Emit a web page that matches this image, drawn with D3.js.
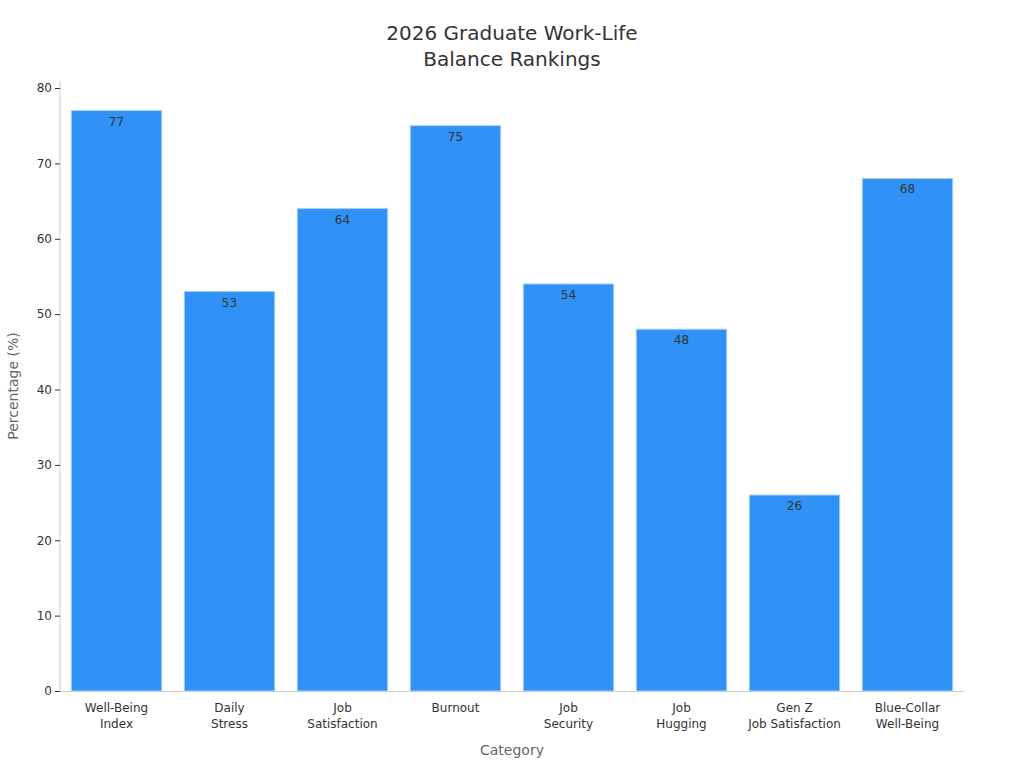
<!DOCTYPE html>
<html><head><meta charset="utf-8">
<script src="https://cdn.jsdelivr.net/npm/d3@7"></script>
<style>body{margin:0;background:#fff;font-family:"DejaVu Sans",sans-serif;}</style>
</head><body><svg id="c" width="1024" height="768"></svg>
<script>
const categories = [["Well-Being","Index"],["Daily","Stress"],["Job","Satisfaction"],["Burnout"],["Job","Security"],["Job","Hugging"],["Gen Z","Job Satisfaction"],["Blue-Collar","Well-Being"]];
const values = [77,53,64,75,54,48,26,68];
const yTicks = [0,10,20,30,40,50,60,70,80];

const svg = d3.select("#c");
const m = {l:60, r:964, t:81, b:691};
const x = d3.scaleBand().domain(d3.range(categories.length)).range([m.l,m.r]).paddingInner(0.2).paddingOuter(0.1);
const y = d3.scaleLinear().domain([0,80]).range([m.b,88]);

svg.append("text").attr("x",512).attr("y",40).attr("text-anchor","middle").attr("font-size",20).attr("fill","#333").text("2026 Graduate Work-Life");
svg.append("text").attr("x",512).attr("y",66).attr("text-anchor","middle").attr("font-size",20).attr("fill","#333").text("Balance Rankings");

svg.selectAll("rect.bar").data(values).join("rect")
  .attr("x",(d,i)=>x(i)).attr("width",x.bandwidth())
  .attr("y",d=>y(d)).attr("height",d=>m.b-y(d))
  .attr("fill","#3092f7").attr("stroke","#a8cdf5").attr("stroke-width",1);

svg.selectAll("text.val").data(values).join("text")
  .attr("x",(d,i)=>x(i)+x.bandwidth()/2).attr("y",d=>y(d)+15)
  .attr("text-anchor","middle").attr("font-size",12).attr("fill","#333").text(d=>d);

const ya = svg.append("g").attr("transform",`translate(${m.l},0)`)
  .call(d3.axisLeft(y).tickValues(yTicks).tickSize(5).tickPadding(3));
ya.select(".domain").attr("d",`M0,${m.t}V${m.b}`).attr("stroke","#ccc");
ya.selectAll(".tick line").attr("stroke","#333");
ya.selectAll("text").attr("font-size",12).attr("fill","#333").attr("font-family","DejaVu Sans");

svg.append("line").attr("x1",m.l).attr("x2",m.r).attr("y1",m.b+0.5).attr("y2",m.b+0.5).attr("stroke","#ccc");

categories.forEach((c,i)=>{
  const t = svg.append("text").attr("text-anchor","middle").attr("font-size",12).attr("fill","#333");
  c.forEach((s,j)=>t.append("tspan").attr("x",x(i)+x.bandwidth()/2).attr("y",712+j*16).text(s));
});

svg.append("text").attr("x",512).attr("y",755).attr("text-anchor","middle").attr("font-size",14).attr("fill","#666").text("Category");
svg.append("text").attr("transform","translate(18,386) rotate(-90)").attr("text-anchor","middle").attr("font-size",14).attr("fill","#666").text("Percentage (%)");
</script></body></html>
